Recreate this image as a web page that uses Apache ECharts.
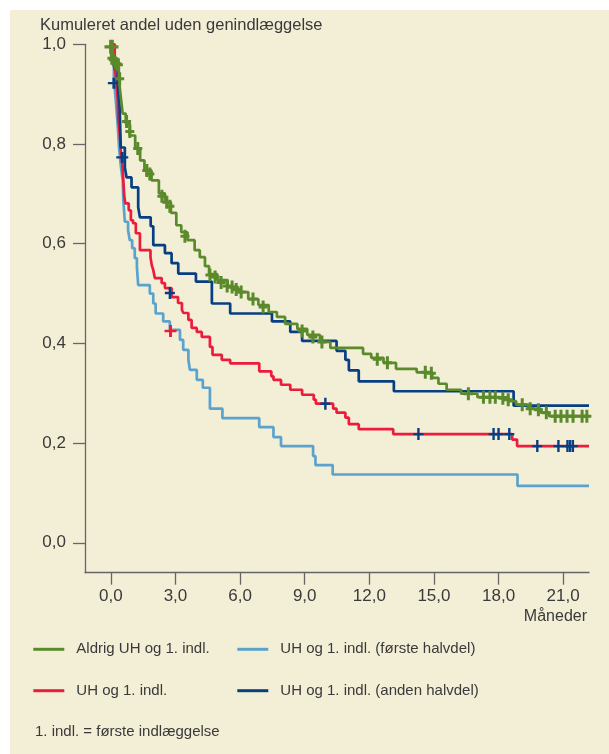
<!DOCTYPE html>
<html>
<head>
<meta charset="utf-8">
<style>
html,body{margin:0;padding:0;background:#ffffff;width:609px;height:754px;overflow:hidden}
#c{position:absolute;left:10px;top:10px;width:599px;height:744px}
</style>
<script src="https://cdn.jsdelivr.net/npm/echarts@6/dist/echarts.min.js"></script>
</head>
<body>
<div id="c"></div>
<script>
// Tick values
const xTicks = [0, 3, 6, 9, 12, 15, 18, 21];
const yTicks = [0, 0.2, 0.4, 0.6, 0.8, 1.0];

// Series names
const seriesNames = [
  'Aldrig UH og 1. indl.',
  'UH og 1. indl.',
  'UH og 1. indl. (første halvdel)',
  'UH og 1. indl. (anden halvdel)'
];

// Kaplan-Meier steps [month, cumulative share]
const aldrigSteps = [[0,1],[0.02,0.975],[0.17,0.961],[0.37,0.931],[0.46,0.895],[0.55,0.861],[0.69,0.841],[0.88,0.817],[1.13,0.791],[1.36,0.767],[1.56,0.747],[1.89,0.727],[2.23,0.701],[2.51,0.683],[2.79,0.662],[3.04,0.637],[3.27,0.623],[3.56,0.607],[3.89,0.587],[4.13,0.573],[4.37,0.555],[4.56,0.539],[4.94,0.527],[5.42,0.513],[5.90,0.503],[6.38,0.489],[6.85,0.477],[7.33,0.463],[7.71,0.453],[8.09,0.439],[8.66,0.429],[9.12,0.417],[9.71,0.403],[10.19,0.391],[11.71,0.379],[12.09,0.371],[12.66,0.361],[13.24,0.349],[14.20,0.342],[14.92,0.331],[15.21,0.319],[15.59,0.307],[16.26,0.299],[17.02,0.292],[18.45,0.284],[18.82,0.277],[19.39,0.269],[19.96,0.261],[20.35,0.254],[22.2,0.254]];
const uhSteps = [[0,1],[0.18,0.953],[0.27,0.921],[0.32,0.887],[0.34,0.853],[0.41,0.821],[0.46,0.787],[0.53,0.761],[0.58,0.727],[0.62,0.697],[0.67,0.681],[0.83,0.667],[0.93,0.647],[1.03,0.641],[1.16,0.621],[1.35,0.587],[1.84,0.573],[1.90,0.557],[1.97,0.547],[2.04,0.531],[2.36,0.521],[2.51,0.511],[2.82,0.493],[3.12,0.481],[3.30,0.467],[3.37,0.461],[3.60,0.447],[3.75,0.431],[3.99,0.423],[4.22,0.413],[4.60,0.393],[4.72,0.377],[5.15,0.367],[5.54,0.36],[6.89,0.344],[7.45,0.334],[7.55,0.327],[7.90,0.317],[8.33,0.307],[8.88,0.297],[9.42,0.287],[9.52,0.279],[10.32,0.269],[10.48,0.261],[10.89,0.251],[11.05,0.238],[11.51,0.228],[13.11,0.218],[18.63,0.207],[18.86,0.194],[22.2,0.194]];
const forsteSteps = [[0,1],[0.04,0.967],[0.14,0.931],[0.23,0.887],[0.32,0.837],[0.39,0.787],[0.46,0.757],[0.55,0.727],[0.58,0.687],[0.65,0.644],[0.80,0.627],[0.88,0.607],[0.99,0.591],[1.11,0.571],[1.21,0.553],[1.27,0.517],[1.81,0.50],[1.97,0.48],[2.08,0.46],[2.43,0.444],[2.74,0.427],[3.21,0.407],[3.36,0.387],[3.60,0.367],[3.67,0.347],[3.99,0.327],[4.27,0.311],[4.60,0.269],[5.18,0.25],[6.89,0.232],[7.55,0.212],[7.90,0.194],[9.39,0.174],[9.50,0.156],[10.30,0.137],[18.88,0.114],[22.2,0.114]];
const andenSteps = [[0,1],[0.09,0.971],[0.18,0.951],[0.32,0.921],[0.41,0.873],[0.46,0.793],[0.65,0.753],[0.73,0.733],[0.96,0.713],[1.27,0.673],[1.35,0.653],[1.85,0.635],[1.97,0.597],[2.51,0.581],[2.82,0.561],[3.13,0.54],[3.95,0.524],[4.69,0.48],[5.54,0.46],[7.48,0.444],[8.33,0.423],[8.88,0.405],[10.48,0.385],[10.89,0.367],[11.05,0.346],[11.51,0.324],[13.14,0.304],[18.7,0.275],[22.2,0.275]];

// Censored observations [month, share]
const aldrigTopCensor = [[0.03,0.995]];
const aldrigCensors = [[0.05,0.972],[0.12,0.969],[0.2,0.963],[0.28,0.961],[0.35,0.959],[0.41,0.931],[0.73,0.845],[0.88,0.825],[1.25,0.791],[1.67,0.747],[1.81,0.74],[2.37,0.695],[2.6,0.683],[2.74,0.675],[3.44,0.615],[4.6,0.537],[4.84,0.533],[5.12,0.522],[5.4,0.515],[5.63,0.513],[5.82,0.508],[6.05,0.503],[6.6,0.489],[7.07,0.473],[8.88,0.425],[9.38,0.413],[9.8,0.403],[12.37,0.368],[12.84,0.361],[14.6,0.342],[14.88,0.340],[16.6,0.299],[17.3,0.292],[17.6,0.292],[17.85,0.292],[18.2,0.29],[18.45,0.287],[19.1,0.277],[19.47,0.269],[19.85,0.267],[20.22,0.261],[20.63,0.254],[20.9,0.254],[21.18,0.254],[21.46,0.254],[21.88,0.254],[22.1,0.254]];
const uhCensors = [[2.74,0.501],[9.96,0.279],[14.28,0.218],[17.77,0.218],[18.0,0.218],[18.5,0.218],[19.8,0.194],[20.78,0.194],[21.2,0.194],[21.32,0.194],[21.45,0.194]];
const andenCensors = [[0.14,0.922],[0.53,0.773]];
const forsteCensors = [[2.77,0.425]];

const GREEN = '#5a8a2b', RED = '#ec1c3c', LBLUE = '#5ba3cd', DBLUE = '#073f82';
const AX = '#666666', TXT = '#3a3a3a';
const FONT = '"Liberation Sans", Arial, sans-serif';
const PLUS_GREEN = 'path://M3,0H6V5H9V8H6V13H3V8H0V5H3Z';
const PLUS_BLUE = 'path://M3.8,0H6.2V4.8H10V7.2H6.2V12H3.8V7.2H0V4.8H3.8Z';
const fmt = v => v.toFixed(1).replace('.', ',');

function stepLine(name, data, color) {
  return {
    name, type: 'line', step: 'end', data, symbol: 'none', showSymbol: false,
    lineStyle: { color, width: 2.7 }, itemStyle: { color },
    emphasis: { disabled: true }, animation: false
  };
}
function censor(name, data, color, size, path) {
  return {
    name, type: 'scatter', data, symbol: path, symbolSize: size,
    itemStyle: { color, opacity: 1 }, silent: true, animation: false, z: 3
  };
}
function legendItem(name, left, top) {
  return {
    data: [name], left, top, padding: 0, orient: 'horizontal',
    icon: 'rect', itemWidth: 31, itemHeight: 3, selectedMode: false,
    textStyle: { color: TXT, fontSize: 15, fontFamily: FONT, padding: [0, 0, 0, 7] }
  };
}

const chart = echarts.init(document.getElementById('c'), null, { renderer: 'canvas' });
chart.setOption({
  backgroundColor: '#f3eed6',
  animation: false,
  grid: { left: 75, top: 34.3, width: 504, height: 528.4 },
  xAxis: {
    type: 'value', min: -1.2, max: 22.2,
    axisLine: { show: true, onZero: false, lineStyle: { color: AX, width: 1.3 } },
    axisTick: { show: true, customValues: xTicks, length: 12, lineStyle: { color: AX, width: 1.3 } },
    axisLabel: { customValues: xTicks, formatter: fmt, margin: 15, color: TXT, fontSize: 17, fontFamily: FONT },
    splitLine: { show: false }
  },
  yAxis: {
    type: 'value', min: -0.06, max: 1.0,
    axisLine: { show: true, onZero: false, lineStyle: { color: AX, width: 1.3 } },
    axisTick: { show: true, customValues: yTicks, length: 12, lineStyle: { color: AX, width: 1.3 } },
    axisLabel: { customValues: yTicks, formatter: fmt, margin: 19, color: TXT, fontSize: 17, fontFamily: FONT },
    splitLine: { show: false }
  },
  legend: [
    legendItem(seriesNames[0], 23.3, 631.8),
    legendItem(seriesNames[1], 23.3, 673.2),
    legendItem(seriesNames[2], 227.3, 631.8),
    legendItem(seriesNames[3], 227.3, 673.2)
  ],
  graphic: [
    { type: 'text', x: 30, y: 15.5, silent: true,
      style: { text: 'Kumuleret andel uden genindlæggelse', fill: TXT, font: '16.5px ' + FONT, textAlign: 'left', textVerticalAlign: 'middle' } },
    { type: 'text', x: 577, y: 606.7, silent: true,
      style: { text: 'Måneder', fill: TXT, font: '16px ' + FONT, textAlign: 'right', textVerticalAlign: 'middle' } },
    { type: 'text', x: 25, y: 721.7, silent: true,
      style: { text: '1. indl. = første indlæggelse', fill: TXT, font: '15px ' + FONT, textAlign: 'left', textVerticalAlign: 'middle' } }
  ],
  series: [
    stepLine(seriesNames[2], forsteSteps, LBLUE),
    stepLine(seriesNames[1], uhSteps, RED),
    stepLine(seriesNames[3], andenSteps, DBLUE),
    stepLine(seriesNames[0], aldrigSteps, GREEN),
    censor('censur-forste', forsteCensors, RED, [12, 12], PLUS_BLUE),
    censor('censur-uh', uhCensors, DBLUE, [10, 12], PLUS_BLUE),
    censor('censur-anden', andenCensors, DBLUE, [12, 11], PLUS_BLUE),
    censor('censur-aldrig', aldrigCensors, GREEN, [9, 13], PLUS_GREEN),
    censor('censur-aldrig-top', aldrigTopCensor, GREEN, [14, 14], PLUS_GREEN)
  ]
});
</script>
</body>
</html>
